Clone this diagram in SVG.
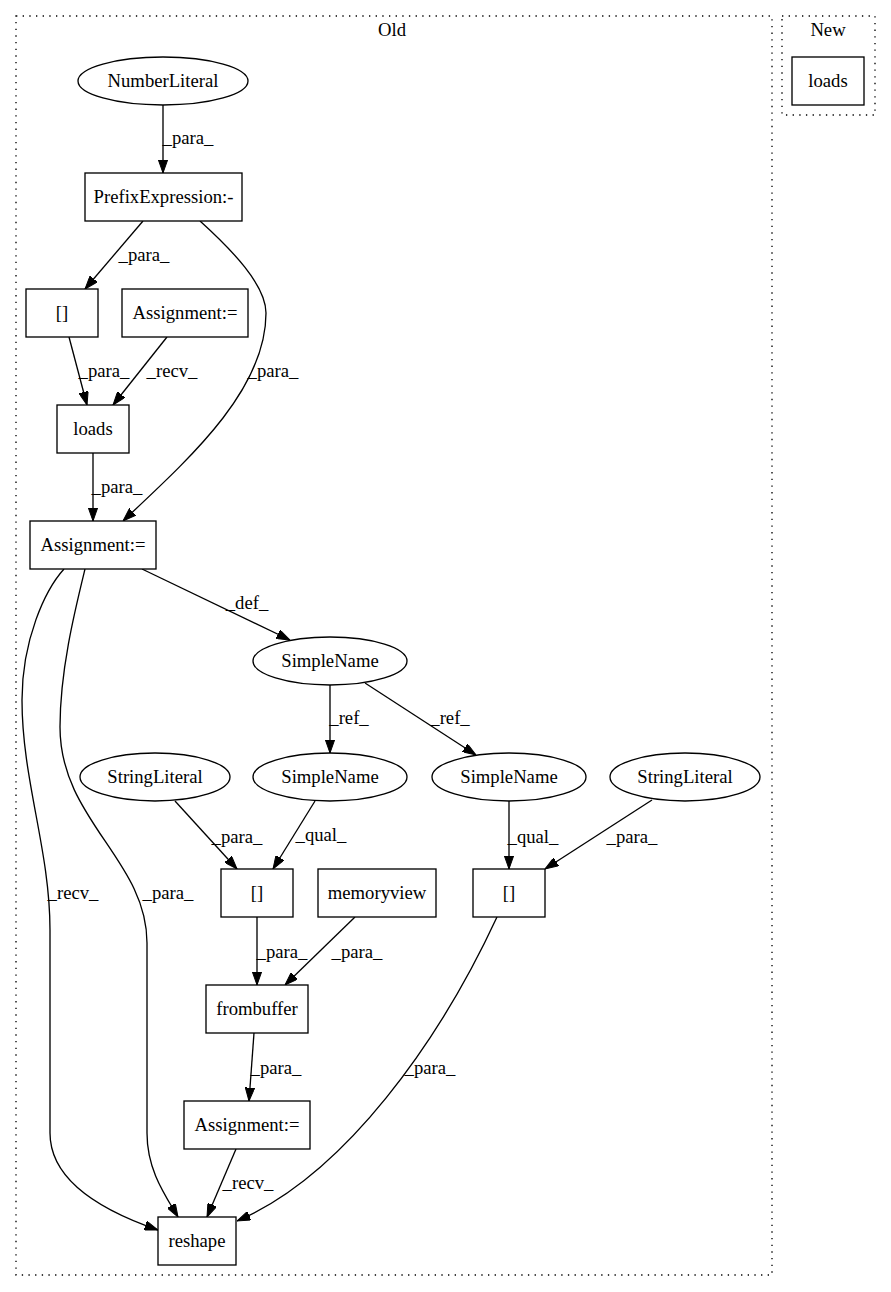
<svg xmlns="http://www.w3.org/2000/svg" width="891" height="1292" viewBox="0 0 891 1292">
<style>
  .bg { fill: #ffffff; }
  .cluster { fill: none; stroke: #000; stroke-width: 1.33; stroke-dasharray: 1.33,5.33; }
  .node { fill: #ffffff; stroke: #000; stroke-width: 1.33; }
  .t { font-family: "Liberation Serif", "Times New Roman", serif; font-size: 18.67px; fill: #000; text-anchor: middle; }
  .edge { fill: none; stroke: #000; stroke-width: 1.33; marker-end: url(#arrow); }
</style>
<defs>
  <marker id="arrow" viewBox="0 0 13.3 9.4" refX="13.3" refY="4.7" markerWidth="13.3" markerHeight="9.4" markerUnits="userSpaceOnUse" orient="auto">
    <path d="M0,0 L13.3,4.7 L0,9.4 z" fill="#000" stroke="#000" stroke-width="1"/>
  </marker>
</defs>
<rect class="bg" x="0" y="0" width="891" height="1292"/>

<g id="cluster_old">
  <rect class="cluster" x="16" y="16" width="756" height="1259"/>
  <text class="t" x="392" y="36">Old</text>
</g>
<g id="cluster_new">
  <rect class="cluster" x="782" y="16" width="93" height="99"/>
  <text class="t" x="828" y="36">New</text>
</g>

<g id="edges">
  <path class="edge" d="M163,105 L163,173"/>
  <text class="t" x="188" y="144">_para_</text>
  <path class="edge" d="M143,221 L85,289"/>
  <text class="t" x="144" y="261">_para_</text>
  <path class="edge" d="M200,221 C232,250 266,285 266,313 C266,390 190,458 123,521"/>
  <text class="t" x="273" y="377">_para_</text>
  <path class="edge" d="M69,337 L87,405"/>
  <text class="t" x="104" y="377">_para_</text>
  <path class="edge" d="M167,337 L113,405"/>
  <text class="t" x="172" y="377">_recv_</text>
  <path class="edge" d="M93,453 L93,521"/>
  <text class="t" x="117" y="493">_para_</text>
  <path class="edge" d="M142,569 L290,640"/>
  <text class="t" x="247" y="609">_def_</text>
  <path class="edge" d="M330,685 L330,753"/>
  <text class="t" x="349" y="724">_ref_</text>
  <path class="edge" d="M365,683 L476,755"/>
  <text class="t" x="450" y="724">_ref_</text>
  <path class="edge" d="M175,801 L237,869"/>
  <text class="t" x="237" y="843">_para_</text>
  <path class="edge" d="M315,801 L273,869"/>
  <text class="t" x="321" y="841">_qual_</text>
  <path class="edge" d="M509,801 L509,869"/>
  <text class="t" x="533" y="843">_qual_</text>
  <path class="edge" d="M652,800 L545,869"/>
  <text class="t" x="632" y="843">_para_</text>
  <path class="edge" d="M257,917 L257,985"/>
  <text class="t" x="282" y="958">_para_</text>
  <path class="edge" d="M355,917 L285,985"/>
  <text class="t" x="357" y="958">_para_</text>
  <path class="edge" d="M254,1033 L249,1101"/>
  <text class="t" x="276" y="1074">_para_</text>
  <path class="edge" d="M236,1149 L207,1217"/>
  <text class="t" x="248" y="1189">_recv_</text>
  <path class="edge" d="M497,917 C440,1040 345,1175 237,1221"/>
  <text class="t" x="430" y="1074">_para_</text>
  <path class="edge" d="M64,569 C45,590 22,640 22,700 C22,780 50,850 50,930 L50,1133 C50,1180 100,1210 158,1230"/>
  <text class="t" x="73" y="899">_recv_</text>
  <path class="edge" d="M85,569 C75,610 60,670 60,727 C60,820 147,860 147,943 L147,1133 C147,1170 165,1195 178,1217"/>
  <text class="t" x="168" y="899">_para_</text>
</g>

<g id="n_numberliteral">
  <ellipse class="node" cx="163" cy="81" rx="85" ry="24"/>
  <text class="t" x="163" y="87">NumberLiteral</text>
</g>
<g id="n_prefix">
  <rect class="node" x="85" y="173" width="157" height="48"/>
  <text class="t" x="163.5" y="203">PrefixExpression:-</text>
</g>
<g id="n_index1">
  <rect class="node" x="26" y="289" width="72" height="48"/>
  <text class="t" x="62" y="319">[]</text>
</g>
<g id="n_assign1">
  <rect class="node" x="122" y="289" width="126" height="48"/>
  <text class="t" x="185" y="319">Assignment:=</text>
</g>
<g id="n_loads">
  <rect class="node" x="57" y="405" width="72" height="48"/>
  <text class="t" x="93" y="435">loads</text>
</g>
<g id="n_assign2">
  <rect class="node" x="30" y="521" width="126" height="48"/>
  <text class="t" x="93" y="551">Assignment:=</text>
</g>
<g id="n_simplename0">
  <ellipse class="node" cx="330" cy="661" rx="77" ry="24"/>
  <text class="t" x="330" y="667">SimpleName</text>
</g>
<g id="n_stringliteral1">
  <ellipse class="node" cx="155" cy="777" rx="75" ry="24"/>
  <text class="t" x="155" y="783">StringLiteral</text>
</g>
<g id="n_simplename1">
  <ellipse class="node" cx="330" cy="777" rx="77" ry="24"/>
  <text class="t" x="330" y="783">SimpleName</text>
</g>
<g id="n_simplename2">
  <ellipse class="node" cx="509" cy="777" rx="77" ry="24"/>
  <text class="t" x="509" y="783">SimpleName</text>
</g>
<g id="n_stringliteral2">
  <ellipse class="node" cx="685" cy="777" rx="75" ry="24"/>
  <text class="t" x="685" y="783">StringLiteral</text>
</g>
<g id="n_index2">
  <rect class="node" x="221" y="869" width="72" height="48"/>
  <text class="t" x="257" y="899">[]</text>
</g>
<g id="n_memoryview">
  <rect class="node" x="318" y="869" width="118" height="48"/>
  <text class="t" x="377" y="899">memoryview</text>
</g>
<g id="n_index3">
  <rect class="node" x="473" y="869" width="72" height="48"/>
  <text class="t" x="509" y="899">[]</text>
</g>
<g id="n_frombuffer">
  <rect class="node" x="206" y="985" width="102" height="48"/>
  <text class="t" x="257" y="1015">frombuffer</text>
</g>
<g id="n_assign3">
  <rect class="node" x="184" y="1101" width="126" height="48"/>
  <text class="t" x="247" y="1131">Assignment:=</text>
</g>
<g id="n_reshape">
  <rect class="node" x="158" y="1217" width="78" height="48"/>
  <text class="t" x="197" y="1247">reshape</text>
</g>
<g id="n_loads_new">
  <rect class="node" x="792" y="57" width="72" height="48"/>
  <text class="t" x="828" y="87">loads</text>
</g>
</svg>
